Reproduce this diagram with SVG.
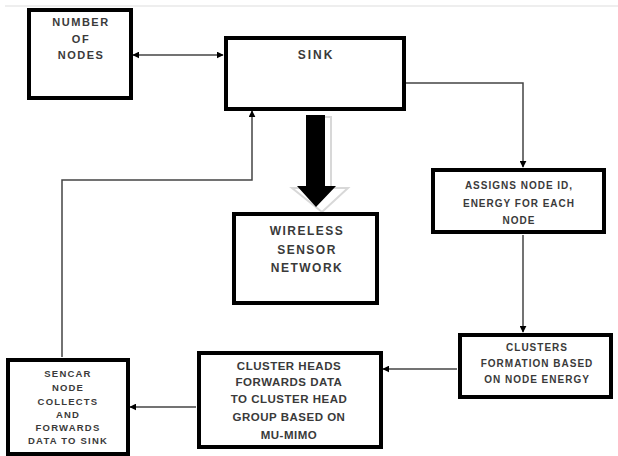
<svg xmlns="http://www.w3.org/2000/svg" width="618" height="456" viewBox="0 0 618 456">
<defs>
<style>
.box{fill:#fff;stroke:#000;stroke-width:4}
.t{font-family:"Liberation Sans",Arial,sans-serif;font-weight:bold;fill:#3a3a3a;text-anchor:middle}
.c{fill:none;stroke:#444;stroke-width:1.5}
</style>
<marker id="ah" viewBox="0 0 10 10" refX="9" refY="5" markerWidth="7" markerHeight="7" orient="auto-start-reverse" markerUnits="userSpaceOnUse">
<path d="M0,0 L10,5 L0,10 Z" fill="#000"/>
</marker>
</defs>
<rect width="618" height="456" fill="#fff"/>
<line x1="5" y1="6" x2="618" y2="6" stroke="#ddd" stroke-width="1"/>
<g id="connectors">
<path class="c" d="M133,55 H223" marker-start="url(#ah)" marker-end="url(#ah)"/>
<path class="c" d="M404,83 H523 V167" marker-end="url(#ah)"/>
<path class="c" d="M523,235 V332" marker-end="url(#ah)"/>
<path class="c" d="M457,369 H383" marker-end="url(#ah)"/>
<path class="c" d="M196,407 H130" marker-end="url(#ah)"/>
<path class="c" d="M62,357 V180 H252 V111" marker-end="url(#ah)"/>
<g id="big-arrow">
<polygon points="312,117 331,117 331,188 348,188 322,212 292,188 312,188" fill="none" stroke="#d8d8d8" stroke-width="2"/>
<polygon points="306,115 325,115 325,186 336,186 316,207 297,186 306,186" fill="#000"/>
</g>
</g>
<g id="number-of-nodes">
<rect class="box" x="29" y="10" width="102" height="88"/>
<text class="t" font-size="11" letter-spacing="1.5"><tspan x="81" y="26">NUMBER</tspan><tspan x="81" y="43">OF</tspan><tspan x="81" y="59">NODES</tspan></text>
</g>
<g id="sink">
<rect class="box" x="226" y="38" width="178" height="71"/>
<text class="t" font-size="12" letter-spacing="2" x="316" y="59">SINK</text>
</g>
<g id="wsn">
<rect class="box" x="234" y="214" width="143" height="89"/>
<text class="t" font-size="12" letter-spacing="1.5"><tspan x="307" y="235">WIRELESS</tspan><tspan x="307" y="254">SENSOR</tspan><tspan x="307" y="272">NETWORK</tspan></text>
</g>
<g id="assigns">
<rect class="box" x="433" y="170" width="171" height="62"/>
<text class="t" font-size="10" letter-spacing="1"><tspan x="519" y="189">ASSIGNS NODE ID,</tspan><tspan x="519" y="207">ENERGY FOR EACH</tspan><tspan x="519" y="224">NODE</tspan></text>
</g>
<g id="clusters">
<rect class="box" x="460" y="335" width="151" height="62"/>
<text class="t" font-size="10" letter-spacing="1"><tspan x="537" y="351">CLUSTERS</tspan><tspan x="537" y="367">FORMATION BASED</tspan><tspan x="537" y="383">ON NODE ENERGY</tspan></text>
</g>
<g id="cluster-heads">
<rect class="box" x="199" y="353" width="182" height="94"/>
<text class="t" font-size="11.5" letter-spacing="0.5"><tspan x="289" y="370">CLUSTER HEADS</tspan><tspan x="289" y="386">FORWARDS DATA</tspan><tspan x="289" y="403">TO CLUSTER HEAD</tspan><tspan x="289" y="421">GROUP BASED ON</tspan><tspan x="289" y="439">MU-MIMO</tspan></text>
</g>
<g id="sencar">
<rect class="box" x="8" y="360" width="120" height="94"/>
<text class="t" font-size="9.5" letter-spacing="1.2"><tspan x="68" y="377">SENCAR</tspan><tspan x="68" y="391">NODE</tspan><tspan x="68" y="405">COLLECTS</tspan><tspan x="68" y="418">AND</tspan><tspan x="68" y="431">FORWARDS</tspan><tspan x="68" y="444">DATA TO SINK</tspan></text>
</g>
</svg>
